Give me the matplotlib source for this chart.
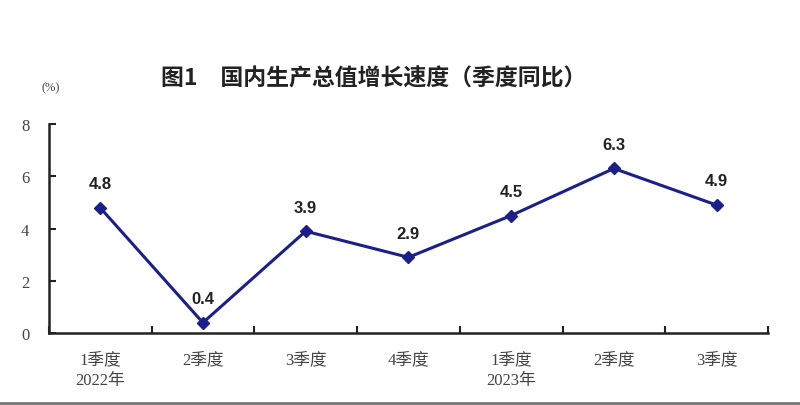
import matplotlib.pyplot as plt
from matplotlib.lines import Line2D

quarters = ['1季度\n2022年', '2季度', '3季度', '4季度', '1季度\n2023年', '2季度', '3季度']
growth = [4.8, 0.4, 3.9, 2.9, 4.5, 6.3, 4.9]
yticks = [0, 2, 4, 6, 8]

serif = ['Liberation Serif', 'Noto Sans CJK SC']
cjk = ['Noto Sans CJK SC', 'DejaVu Sans']
line_color = '#1b1f8a'

fig = plt.figure(figsize=(8, 4.06), dpi=100)
ax = fig.add_axes([0.061, 0.177, 0.899, 0.515])

x = list(range(len(growth)))
ax.plot(x, growth, color=line_color, lw=2.2, marker='D', ms=6.5, mfc=line_color, mec=line_color)

for xi, v in zip(x, growth):
    ax.annotate(f'{v}', (xi, v), xytext=(0, 12), textcoords='offset points',
                ha='center', va='bottom', fontsize=12, fontweight='bold',
                color='#222222', family=['Liberation Sans'])

ax.set_xlim(-0.5, len(growth) - 0.5)
ax.set_ylim(0, 8)
ax.set_yticks(yticks)
ax.set_yticklabels([str(t) for t in yticks], family=serif, fontsize=12, color='#444444')

# category labels at centers, ticks at boundaries
ax.set_xticks([i - 0.5 for i in range(len(growth) + 1)])
ax.set_xticklabels([])
ax.set_xticks(x, minor=True)
ax.set_xticklabels(quarters, minor=True, family=serif, fontsize=12, color='#444444', linespacing=1.4)
ax.tick_params(axis='x', which='minor', length=0, pad=13)
ax.tick_params(axis='x', which='major', direction='in', length=5, width=1.5, color='#222222')
ax.tick_params(axis='y', direction='in', length=5, width=1.5, color='#222222', pad=14)

for s in ['top', 'right']:
    ax.spines[s].set_visible(False)
for s in ['left', 'bottom']:
    ax.spines[s].set_linewidth(1.8)
    ax.spines[s].set_color('#222222')

fig.text(0.467, 0.805, '图1　国内生产总值增长速度（季度同比）', ha='center', va='center',
         fontsize=16.5, fontweight='bold', family=cjk, color='#222222')
fig.text(0.063, 0.783, '(%)', ha='center', va='center', fontsize=9, family=serif, color='#444444')

fig.add_artist(Line2D([0, 1], [0.006, 0.006], color='#777777', lw=2, transform=fig.transFigure))

fig.savefig('out.png', dpi=100)
